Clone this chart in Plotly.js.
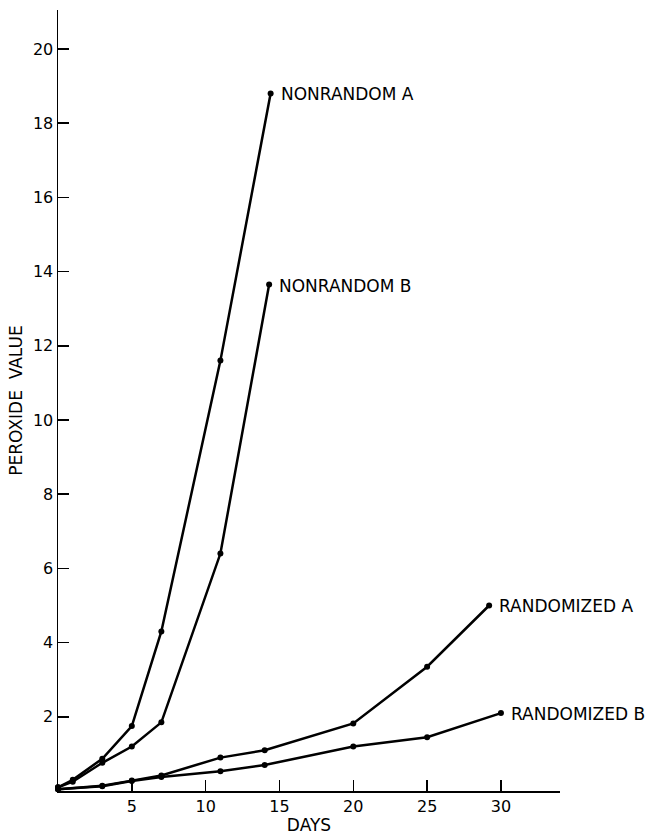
<!DOCTYPE html>
<html>
<head>
<meta charset="utf-8">
<script src="https://cdn.plot.ly/plotly-3.0.1.min.js"></script>
<style>html,body{margin:0;padding:0;background:#fff;}#chart{width:649px;height:835px;}</style>
</head>
<body>
<div id="chart"></div>
<script>
// Data
const nonrandomADays = [0, 1, 3, 5, 7, 11, 14.4];
const nonrandomAValues = [0.1, 0.3, 0.87, 1.75, 4.3, 11.6, 18.8];
const nonrandomBDays = [0, 1, 3, 5, 7, 11, 14.3];
const nonrandomBValues = [0.1, 0.25, 0.76, 1.2, 1.85, 6.4, 13.65];
const randomizedADays = [0, 3, 5, 7, 11, 14, 20, 25, 29.2];
const randomizedAValues = [0.05, 0.14, 0.28, 0.42, 0.9, 1.1, 1.82, 3.35, 5.0];
const randomizedBDays = [0, 3, 5, 7, 11, 14, 20, 25, 30];
const randomizedBValues = [0.05, 0.13, 0.27, 0.38, 0.53, 0.7, 1.2, 1.45, 2.1];
const seriesNames = ["NONRANDOM A", "NONRANDOM B", "RANDOMIZED A", "RANDOMIZED B"];
const xTicks = [5, 10, 15, 20, 25, 30];
const yTicks = [2, 4, 6, 8, 10, 12, 14, 16, 18, 20];

const series = [
  [nonrandomADays, nonrandomAValues],
  [nonrandomBDays, nonrandomBValues],
  [randomizedADays, randomizedAValues],
  [randomizedBDays, randomizedBValues]
];

const FONT = "DejaVu Sans, Liberation Sans, sans-serif";

const traces = series.map((s, i) => ({
  x: s[0], y: s[1], name: seriesNames[i],
  type: "scatter", mode: "lines+markers",
  line: {color: "#000", width: 2.5},
  marker: {color: "#000", size: 6},
  cliponaxis: false
}));

const annotations = series.map((s, i) => ({
  x: s[0][s[0].length - 1], y: s[1][s[1].length - 1],
  xref: "x", yref: "y",
  text: seriesNames[i],
  showarrow: false, xanchor: "left", yanchor: "middle",
  xshift: 8, yshift: -1,
  font: {family: FONT, size: 17, color: "#000"}
}));

const layout = {
  width: 649, height: 835,
  margin: {l: 58, r: 89, t: 10, b: 44},
  paper_bgcolor: "#fff", plot_bgcolor: "#fff",
  showlegend: false,
  font: {family: FONT, color: "#000"},
  xaxis: {
    range: [0, 34], tickvals: xTicks, ticktext: xTicks.map(String),
    ticks: "inside", ticklen: 11, tickwidth: 1.5, tickcolor: "#000",
    showline: true, linecolor: "#000", linewidth: 1.5,
    showgrid: false, zeroline: false,
    tickfont: {family: FONT, size: 16, color: "#000"},
    title: {text: "DAYS", font: {family: FONT, size: 17, color: "#000"}, standoff: 4}
  },
  yaxis: {
    range: [0, 21.05], tickvals: yTicks, ticktext: yTicks.map(String),
    ticks: "inside", ticklen: 11, tickwidth: 1.5, tickcolor: "#000",
    showline: true, linecolor: "#000", linewidth: 1.5,
    showgrid: false, zeroline: false,
    tickfont: {family: FONT, size: 16, color: "#000"},
    title: {text: "PEROXIDE  VALUE", font: {family: FONT, size: 17, color: "#000"}, standoff: 6}
  },
  annotations: annotations
};

Plotly.newPlot("chart", traces, layout, {staticPlot: true, displayModeBar: false});
</script>
</body>
</html>
